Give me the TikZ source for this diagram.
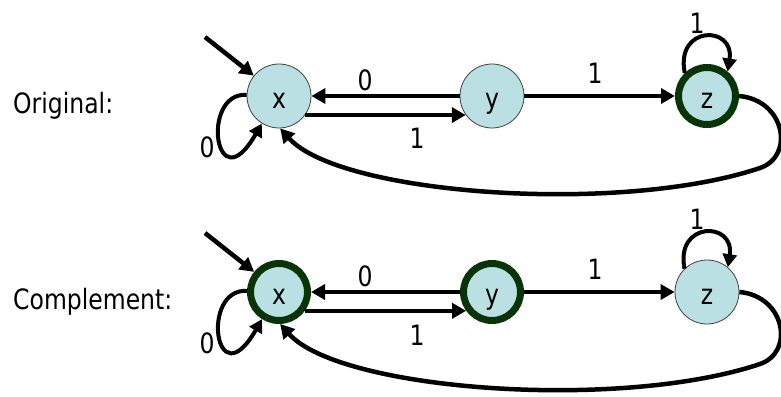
\documentclass[tikz,border=0pt]{standalone}
\usepackage{fontspec}
\setmainfont[FakeStretch=0.84]{DejaVu Sans}
\usetikzlibrary{arrows.meta}
\definecolor{stateblue}{RGB}{187,224,227}
\definecolor{acceptgreen}{RGB}{8,52,8}
\tikzset{
  st/.style={circle, fill=stateblue, draw=black!75, line width=0.8pt,
    minimum size=64pt, inner sep=0pt, text height=24pt, text depth=0pt,
    font=\fontsize{28}{32}\selectfont},
  acc/.style={st, draw=acceptgreen, line width=7pt, minimum size=57pt},
  lbl/.style={font=\fontsize{28}{32}\selectfont, inner sep=0pt},
  side/.style={font=\fontsize{28}{32}\selectfont, inner sep=0pt, anchor=base west},
  edge/.style={line width=4.5pt, -{Triangle[length=14pt,width=15pt]}},
  loopedge/.style={line width=4pt, -{Triangle[length=13pt,width=14pt]}}
}
\begin{document}
\begin{tikzpicture}[x=1pt,y=-1pt]
\useasboundingbox (0,0) rectangle (781,396);
% ---------- Original ----------
\node[side] (t1) at (13,113) {Original:};
\node[st] (x1) at (279,96) {x};
\node[st] (y1) at (492,96) {y};
\node[acc] (z1) at (707,96) {z};
\coordinate (s1) at (205,37);
\draw[edge] (s1) -- (x1.141);
\draw[edge] (y1.west) -- (x1.east);
\draw[edge] (x1.-36) -- (y1.-144);
\draw[edge] (y1.east) -- (z1.west);
\draw[loopedge] (x1.178) .. controls (200,92) and (215,205) .. (x1.-122);
\draw[loopedge] (z1.134) .. controls (675,25) and (735,25) .. (z1.50);
\draw[edge] (z1.east) .. controls (785,100) and (795,156) .. (760,168)
  .. controls (620,215) and (340,195) .. (x1.-88);
\node[lbl] (a1) at (365,80) {0};
\node[lbl] (b1) at (417,138) {1};
\node[lbl] (c1) at (595,73) {1};
\node[lbl] (d1) at (207,147) {0};
\node[lbl] (e1) at (697,23) {1};
% ---------- Complement ----------
\node[side] (t2) at (13,309) {Complement:};
\node[acc] (x2) at (279,292) {x};
\node[acc] (y2) at (492,292) {y};
\node[st] (z2) at (707,292) {z};
\coordinate (s2) at (205,233);
\draw[edge] (s2) -- (x2.141);
\draw[edge] (y2.west) -- (x2.east);
\draw[edge] (x2.-36) -- (y2.-144);
\draw[edge] (y2.east) -- (z2.west);
\draw[loopedge] (x2.178) .. controls (200,288) and (215,401) .. (x2.-122);
\draw[loopedge] (z2.134) .. controls (675,221) and (735,221) .. (z2.50);
\draw[edge] (z2.east) .. controls (785,296) and (795,352) .. (760,364)
  .. controls (620,411) and (340,391) .. (x2.-88);
\node[lbl] (a2) at (365,276) {0};
\node[lbl] (b2) at (417,335) {1};
\node[lbl] (c2) at (595,269) {1};
\node[lbl] (d2) at (207,343) {0};
\node[lbl] (e2) at (697,219) {1};
\end{tikzpicture}
\end{document}
